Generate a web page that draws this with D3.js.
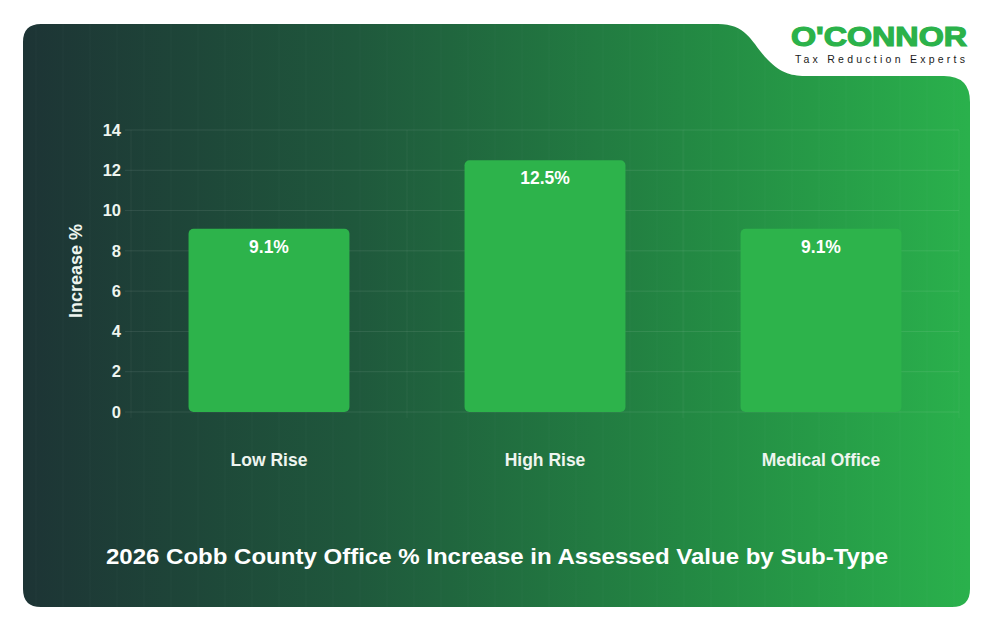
<!DOCTYPE html>
<html>
<head>
<meta charset="utf-8">
<script src="https://cdn.jsdelivr.net/npm/d3@7"></script>
<style>
html,body{margin:0;padding:0;background:#fff;}
svg{display:block;}
</style>
</head>
<body>
<svg id="chart" width="994" height="632"></svg>
<script>
const categories = ["Low Rise", "High Rise", "Medical Office"];
const values = [9.1, 12.5, 9.1];
const valueLabels = ["9.1%", "12.5%", "9.1%"];
const yTicks = [0, 2, 4, 6, 8, 10, 12, 14];
const chartTitle = "2026 Cobb County Office % Increase in Assessed Value by Sub-Type";
const yAxisTitle = "Increase %";
const brandName = "O'CONNOR";
const brandTagline = "Tax Reduction Experts";

const FONT = "Liberation Sans, Arial, sans-serif";
const svg = d3.select("#chart");
const defs = svg.append("defs");

const grad = defs.append("linearGradient").attr("id","bg").attr("x1","0").attr("y1","0").attr("x2","1").attr("y2","0");
grad.append("stop").attr("offset","0").attr("stop-color","#1d3435");
grad.append("stop").attr("offset","0.35").attr("stop-color","#1f583c");
grad.append("stop").attr("offset","0.7").attr("stop-color","#238843");
grad.append("stop").attr("offset","1").attr("stop-color","#2ab14c");

// Panel shape with top-right cutout
const L = 23, T = 24, R = 970, B = 607, r = 18;
const panelPath = [
  `M${L+r},${T}`,
  `L718,${T}`,
  `C748,${T} 752,44 768,60`,
  `C782,74 792,76 808,76`,
  `L944,76`,
  `Q${R},76 ${R},102`,
  `L${R},${B-r}`,
  `Q${R},${B} ${R-r},${B}`,
  `L${L+r},${B}`,
  `Q${L},${B} ${L},${B-r}`,
  `L${L},${T+r}`,
  `Q${L},${T} ${L+r},${T}`,
  "Z"
].join(" ");

const clip = defs.append("clipPath").attr("id","panelClip");
clip.append("path").attr("d", panelPath);

svg.append("path").attr("d", panelPath).attr("fill","url(#bg)");

// faint background texture lines
const tex = svg.append("g").attr("clip-path","url(#panelClip)");
tex.selectAll("line.v").data(d3.range(L+13, R, 27)).join("line")
  .attr("x1", d=>d).attr("x2", d=>d).attr("y1", T).attr("y2", B)
  .attr("stroke","#ffffff").attr("stroke-opacity",0.025).attr("stroke-width",1);

// Chart
const x = d3.scaleBand().domain(categories).range([131, 959]).paddingInner(0.417).paddingOuter(0.2085);
const y = d3.scaleLinear().domain([0, 14]).range([412, 130]);

const grid = svg.append("g");
grid.selectAll("line.h").data(yTicks).join("line")
  .attr("x1", 125).attr("x2", 959)
  .attr("y1", d=>y(d)).attr("y2", d=>y(d))
  .attr("stroke","#ffffff").attr("stroke-opacity",0.09).attr("stroke-width",1);
const bounds = [131].concat(categories.map(c => x(c) - x.step()*x.paddingInner()/2 + x.step()));
grid.selectAll("line.vb").data(bounds).join("line")
  .attr("x1", d=>d).attr("x2", d=>d).attr("y1", 130).attr("y2", 418)
  .attr("stroke","#ffffff").attr("stroke-opacity",0.05).attr("stroke-width",1);

// y axis
const yAxis = svg.append("g").attr("transform","translate(125,0)")
  .call(d3.axisLeft(y).tickValues(yTicks).tickSize(0).tickPadding(4));
yAxis.select(".domain").remove();
yAxis.selectAll("text")
  .attr("fill","#eef5ef").attr("font-family",FONT)
  .attr("font-weight","bold").attr("font-size","16.5px");

// x axis labels
const xAxis = svg.append("g").attr("transform","translate(0,412)")
  .call(d3.axisBottom(x).tickSize(0).tickPadding(42));
xAxis.select(".domain").remove();
xAxis.selectAll("text")
  .attr("fill","#eef5ef").attr("font-family",FONT)
  .attr("font-weight","bold").attr("font-size","17.5px");

// y title
svg.append("text")
  .attr("transform","translate(82,271) rotate(-90)")
  .attr("text-anchor","middle")
  .attr("fill","#eef5ef").attr("font-family",FONT)
  .attr("font-weight","bold").attr("font-size","18px")
  .text(yAxisTitle);

// bars
const data = categories.map((c,i)=>({c, v: values[i], lab: valueLabels[i]}));
svg.append("g").selectAll("rect").data(data).join("rect")
  .attr("x", d=>x(d.c)).attr("width", x.bandwidth())
  .attr("y", d=>y(d.v)).attr("height", d=>y(0)-y(d.v))
  .attr("rx", 5).attr("ry", 5)
  .attr("fill","#2db34b");

svg.append("g").selectAll("text").data(data).join("text")
  .attr("x", d=>x(d.c)+x.bandwidth()/2)
  .attr("y", d=>y(d.v)+24)
  .attr("text-anchor","middle")
  .attr("fill","#ffffff").attr("font-family",FONT)
  .attr("font-weight","bold").attr("font-size","17.5px")
  .text(d=>d.lab);

// title
svg.append("text")
  .attr("x", 497).attr("y", 564)
  .attr("text-anchor","middle")
  .attr("fill","#ffffff").attr("font-family",FONT)
  .attr("font-weight","bold").attr("font-size","22px")
  .attr("textLength", 782).attr("lengthAdjust","spacingAndGlyphs")
  .text(chartTitle);

// logo
svg.append("text")
  .attr("x", 879).attr("y", 46)
  .attr("text-anchor","middle")
  .attr("fill","#2bb24a").attr("stroke","#2bb24a").attr("stroke-width",1.2)
  .attr("font-family",FONT)
  .attr("font-weight","bold").attr("font-size","27px")
  .attr("textLength", 176).attr("lengthAdjust","spacingAndGlyphs")
  .text(brandName);
svg.append("text")
  .attr("x", 880).attr("y", 63)
  .attr("text-anchor","middle")
  .attr("fill","#1a1a1a").attr("font-family",FONT)
  .attr("font-size","10.5px")
  .attr("textLength", 170).attr("lengthAdjust","spacing")
  .text(brandTagline);
</script>
</body>
</html>
